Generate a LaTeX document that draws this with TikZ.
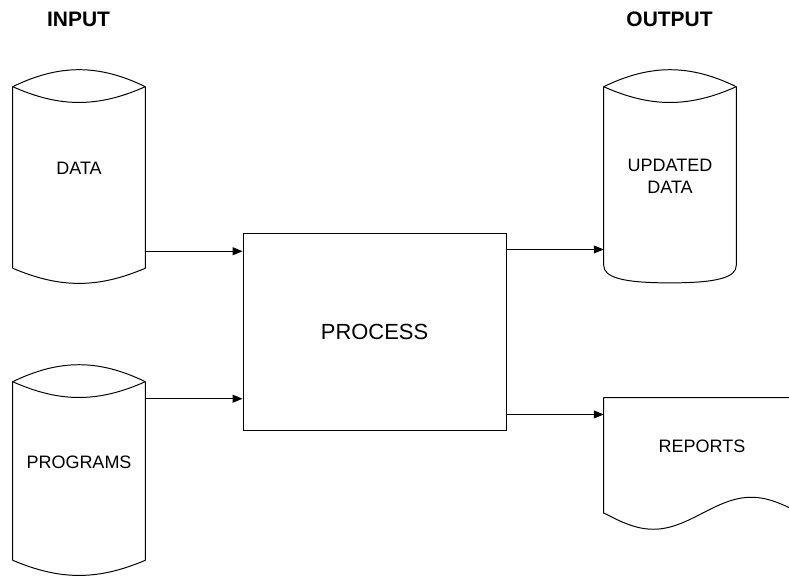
\documentclass[tikz,border=0pt]{standalone}
\usepackage{fontspec}
\setmainfont{Liberation Sans}
\usetikzlibrary{arrows.meta}
\tikzset{
  outline/.style={line width=0.7pt, draw=black, line join=round},
  drum/.style={minimum width=3.3cm, inner sep=0pt, align=center, font=\fontsize{12.8}{15.6}\selectfont},
  raised/.style={text depth=0.44cm},
  procbox/.style={draw=black, line width=0.7pt, minimum width=6.575cm, minimum height=4.92cm, inner sep=0pt, font=\fontsize{15.6}{18}\selectfont},
  docsheet/.style={minimum width=4.9cm, minimum height=2.875cm, inner sep=0pt, font=\fontsize{12.8}{15.6}\selectfont},
  heading/.style={font=\fontsize{14.9}{17}\selectfont\bfseries},
  flow/.style={line width=0.7pt, draw=black, -{Triangle[length=7pt,width=5.6pt]}},
}

\begin{document}
\begin{tikzpicture}
\useasboundingbox (0,0) rectangle (19.725,14.375);
\clip (0,0) rectangle (19.725,14.375);
\node[heading] (inhead) at (1.963,13.900) {INPUT};
\node[heading] (outhead) at (16.738,13.900) {OUTPUT};
\node[drum, raised, minimum height=4.525cm] (data) at (1.975,9.938) {DATA};
\draw[outline] (data.south west) -- (data.north west) to[bend left=26] (data.north east) -- (data.south east) to[bend left=23] (data.south west);
\draw[outline] (data.north west) to[bend right=24] (data.north east);
\node[drum, raised, minimum height=4.450cm] (prog) at (1.975,2.600) {PROGRAMS};
\draw[outline] (prog.south west) -- (prog.north west) to[bend left=26] (prog.north east) -- (prog.south east) to[bend left=23] (prog.south west);
\draw[outline] (prog.north west) to[bend right=24] (prog.north east);
\node[procbox] (proc) at (9.363,6.066) {PROCESS};
\node[drum, minimum height=4.450cm] (upd) at (16.750,9.975) {UPDATED\\DATA};
\draw[outline] (upd.south west) -- (upd.north west) to[bend left=26] (upd.north east) -- (upd.south east) .. controls +(0,-0.3) and +(1.2,0) .. ([yshift=-0.44cm]upd.south) .. controls +(-1.2,0) and +(0,-0.3) .. (upd.south west);
\draw[outline] (upd.north west) to[bend right=24] (upd.north east);
\node[docsheet, raised] (rep) at (17.550,2.988) {REPORTS};
\draw[outline] (rep.south west) -- (rep.north west) -- (rep.north east) -- (rep.south east) sin ++(-1.225,0.4) cos ++(-1.225,-0.4) sin ++(-1.225,-0.4) cos ++(-1.225,0.4) -- cycle;
\draw[flow] ([yshift=0.425cm]data.south east) coordinate (d1) -- (proc.west |- d1);
\draw[flow] ([yshift=-0.425cm]prog.north east) coordinate (p1) -- (proc.west |- p1);
\draw[flow] ([yshift=-0.4cm]proc.north east) coordinate (u1) -- (upd.west |- u1);
\draw[flow] ([yshift=0.42cm]proc.south east) coordinate (r1) -- (rep.west |- r1);
\end{tikzpicture}
\end{document}
